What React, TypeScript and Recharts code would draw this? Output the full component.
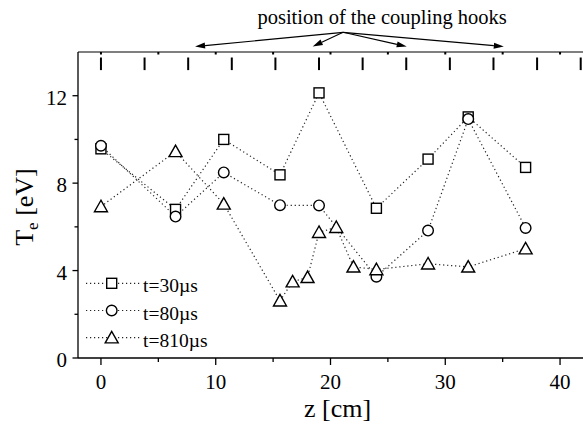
import {
  ComposedChart,
  Line,
  Scatter,
  XAxis,
  YAxis,
  Legend,
  Label,
  ReferenceLine,
  ReferenceDot,
} from "recharts";

const FONT = '"Liberation Serif", "Times New Roman", serif';

// z positions [cm] and electron temperatures [eV]
const z30 = [0, 6.5, 10.7, 15.6, 19.0, 24.0, 28.5, 32.0, 37.0];
const te30 = [9.57, 6.8, 10.0, 8.38, 12.13, 6.85, 9.1, 11.03, 8.72];
const z80 = [0, 6.5, 10.7, 15.6, 19.0, 24.0, 28.5, 32.0, 37.0];
const te80 = [9.71, 6.47, 8.49, 6.99, 6.98, 3.72, 5.83, 10.93, 5.95];
const z810 = [0, 6.5, 10.7, 15.6, 16.7, 18.0, 19.0, 20.5, 22.0, 24.0, 28.5, 32.0, 37.0];
const te810 = [6.93, 9.45, 7.05, 2.62, 3.49, 3.69, 5.75, 5.98, 4.17, 4.05, 4.31, 4.17, 5.0];

const seriesNames = ["t=30\u00b5s", "t=80\u00b5s", "t=810\u00b5s"];
const seriesShapes = ["square", "circle", "triangle"];

// coupling hook positions along z, drawn as bars under the top axis
const hookZ = [0, 3.8, 7.6, 11.4, 15.2, 19.0, 22.8, 26.6, 30.4, 34.2, 38.0, 41.8];
const hookLevel = 13.46;

const xTicks = [0, 5, 10, 15, 20, 25, 30, 35, 40];
const yTicks = [0, 2, 4, 6, 8, 10, 12];

// annotation arrows (data coords, above the frame)
const arrowFrom = { x: 21.1, y: 14.9 };
const arrowTo = [8.2, 18.45, 26.64, 35.1];
const arrowTipLevel = 14.25;
const noteAt = { x: 24.5, y: 15.28 };

const toRows = (zs: number[], ts: number[]) => zs.map((z, i) => ({ z, te: ts[i] }));
const data30 = toRows(z30, te30);
const data80 = toRows(z80, te80);
const data810 = toRows(z810, te810);
const hookData = hookZ.map((z) => ({ z, te: hookLevel }));

function Marker({ shape, cx, cy }: { shape: string; cx: number; cy: number }) {
  const common = { fill: "#fff", stroke: "#000", strokeWidth: 1.4 };
  if (shape === "square")
    return <rect x={cx - 5} y={cy - 5} width={10} height={10} {...common} />;
  if (shape === "circle") return <circle cx={cx} cy={cy} r={5.3} {...common} />;
  return (
    <polygon
      points={`${cx},${cy - 6.3} ${cx - 6.5},${cy + 5.2} ${cx + 6.5},${cy + 5.2}`}
      {...common}
    />
  );
}

const dotFor = (shape: string) => (p: any) =>
  <Marker key={`${shape}-${p.index}`} shape={shape} cx={p.cx} cy={p.cy} />;

function BottomTick({ x, y, payload }: any) {
  const v = payload.value;
  const major = v % 10 === 0;
  return (
    <g>
      <line x1={x} x2={x} y1={y} y2={y + (major ? 7 : 4)} stroke="#000" strokeWidth={1.3} />
      {major && (
        <text x={x} y={y + 31} textAnchor="middle" fontFamily={FONT} fontSize={21} fill="#000">
          {v}
        </text>
      )}
    </g>
  );
}

function TopTick({ x, y }: any) {
  return <line x1={x} x2={x} y1={y} y2={y + 2.5} stroke="#000" strokeWidth={2} />;
}

function LeftTick({ x, y, payload }: any) {
  const v = payload.value;
  const major = v % 4 === 0;
  return (
    <g>
      <line x1={x - (major ? 5.5 : 3.5)} x2={x} y1={y} y2={y} stroke="#000" strokeWidth={1.3} />
      {major && (
        <text x={x - 11} y={y + 9} textAnchor="end" fontFamily={FONT} fontSize={21} fill="#000">
          {v}
        </text>
      )}
    </g>
  );
}

function Arrow({ x1, y1, x2, y2 }: any) {
  const dx = x2 - x1;
  const dy = y2 - y1;
  const len = Math.hypot(dx, dy) || 1;
  const ux = dx / len;
  const uy = dy / len;
  const L = 10;
  const W = 3;
  const bx = x2 - ux * L;
  const by = y2 - uy * L;
  return (
    <g>
      <line x1={x1} y1={y1} x2={bx} y2={by} stroke="#000" strokeWidth={1.1} />
      <polygon
        points={`${x2},${y2} ${bx - uy * W},${by + ux * W} ${bx + uy * W},${by - ux * W}`}
        fill="#000"
      />
    </g>
  );
}

function LegendBox() {
  return (
    <svg width={130} height={84} style={{ display: "block", overflow: "visible" }}>
      {seriesNames.map((name, i) => {
        const cy = 15.3 + i * 27.2;
        return (
          <g key={name}>
            <line x1={6} x2={62} y1={cy} y2={cy} stroke="#222" strokeWidth={1.2} strokeDasharray="1.2 2.8" />
            <Marker shape={seriesShapes[i]} cx={31.7} cy={cy} />
            <text x={63} y={cy + 9} fontFamily={FONT} fontSize={19.5} fill="#000">
              {name}
            </text>
          </g>
        );
      })}
    </svg>
  );
}

export default function App() {
  const lineProps = {
    type: "linear" as const,
    dataKey: "te",
    stroke: "#222",
    strokeWidth: 1.2,
    strokeDasharray: "1.2 2.8",
    isAnimationActive: false,
  };
  return (
    <div style={{ position: "absolute", left: 0, top: 0, width: 583, height: 428, background: "#fff" }}>
      <ComposedChart width={583} height={428} margin={{ top: 22, right: 0, bottom: 0, left: 0 }}>
        <XAxis
          xAxisId="top"
          orientation="top"
          dataKey="z"
          type="number"
          domain={[-2, 42]}
          ticks={xTicks}
          interval={0}
          height={30}
          tickSize={0}
          tickMargin={0}
          tickLine={false}
          tick={<TopTick />}
          axisLine={{ stroke: "#555", strokeWidth: 1.4 }}
          allowDataOverflow
        />
        <XAxis
          dataKey="z"
          type="number"
          domain={[-2, 42]}
          ticks={xTicks}
          interval={0}
          height={70}
          tickSize={0}
          tickMargin={0}
          tickLine={false}
          tick={<BottomTick />}
          axisLine={{ stroke: "#000", strokeWidth: 1.3 }}
          allowDataOverflow
        >
          <Label
            content={({ viewBox }: any) => (
              <text
                x={viewBox.x + viewBox.width / 2 + 7}
                y={417}
                textAnchor="middle"
                fontFamily={FONT}
                fontSize={26}
                fill="#000"
              >
                z [cm]
              </text>
            )}
          />
        </XAxis>
        <YAxis
          type="number"
          domain={[0, 14]}
          ticks={yTicks}
          interval={0}
          width={78}
          tickSize={0}
          tickMargin={0}
          tickLine={false}
          tick={<LeftTick />}
          axisLine={{ stroke: "#000", strokeWidth: 1.3 }}
          allowDataOverflow
        >
          <Label
            content={({ viewBox }: any) => {
              const cy = viewBox.y + viewBox.height / 2 + 2;
              return (
                <text
                  transform={`rotate(-90 33 ${cy})`}
                  x={33}
                  y={cy}
                  textAnchor="middle"
                  fontFamily={FONT}
                  fontSize={26}
                  fill="#000"
                >
                  T
                  <tspan fontSize={17} dy={5}>
                    e
                  </tspan>
                  <tspan dy={-5}> [eV]</tspan>
                </text>
              );
            }}
          />
        </YAxis>
        <Scatter
          data={hookData}
          dataKey="te"
          isAnimationActive={false}
          shape={(p: any) => (
            <line x1={p.cx} x2={p.cx} y1={p.cy - 6.3} y2={p.cy + 6.3} stroke="#000" strokeWidth={2} />
          )}
        />
        <Line {...lineProps} data={data30} name={seriesNames[0]} dot={dotFor("square")} activeDot={false} />
        <Line {...lineProps} data={data80} name={seriesNames[1]} dot={dotFor("circle")} activeDot={false} />
        <Line {...lineProps} data={data810} name={seriesNames[2]} dot={dotFor("triangle")} activeDot={false} />
        {arrowTo.map((x) => (
          <ReferenceLine
            key={x}
            segment={[arrowFrom, { x, y: arrowTipLevel }]}
            ifOverflow="visible"
            shape={(p: any) => <Arrow {...p} />}
          />
        ))}
        <ReferenceDot
          x={noteAt.x}
          y={noteAt.y}
          ifOverflow="visible"
          shape={(p: any) => (
            <text x={p.cx} y={p.cy} textAnchor="middle" fontFamily={FONT} fontSize={20.5} fill="#000">
              position of the coupling hooks
            </text>
          )}
        />
        <Legend
          layout="horizontal"
          verticalAlign="middle"
          align="center"
          content={() => <LegendBox />}
          wrapperStyle={{ left: 80, top: 268, width: 130, height: 84 }}
        />
      </ComposedChart>
    </div>
  );
}
